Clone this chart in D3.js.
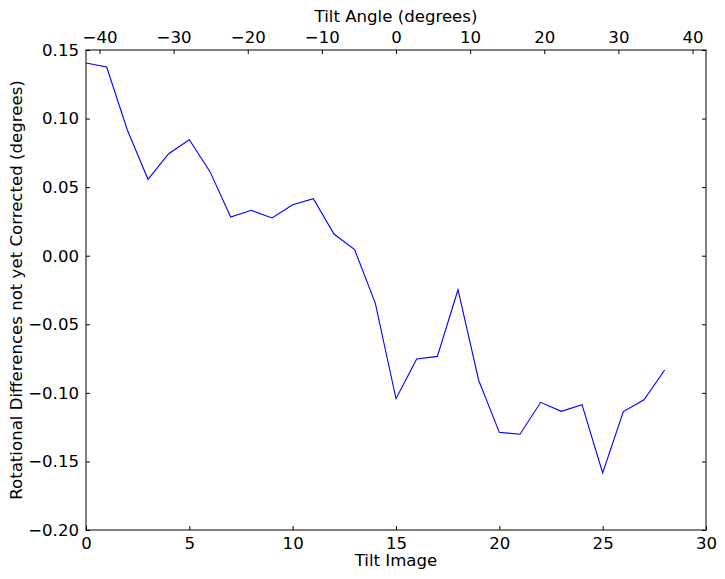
<!DOCTYPE html>
<html><head><meta charset="utf-8">
<script src="https://cdn.jsdelivr.net/npm/d3@7"></script>
<style>body{margin:0;background:#fff}svg{display:block}text{font-family:"DejaVu Sans",sans-serif;fill:#000}</style>
</head><body><svg id="c" width="725" height="579"></svg>
<script>
const tiltImage = [0,1,2,3,4,5,6,7,8,9,10,11,12,13,14,15,16,17,18,19,20,21,22,23,24,25,26,27,28];
const rotDiff = [0.1405,0.1376,0.0917,0.0557,0.0744,0.0846,0.0613,0.0282,0.0331,0.0275,0.0372,0.0416,0.0158,0.0044,-0.0347,-0.1043,-0.0753,-0.0734,-0.0248,-0.0908,-0.1288,-0.1302,-0.1069,-0.1135,-0.1086,-0.1584,-0.1137,-0.1050,-0.0833];
const xTicks = [0,5,10,15,20,25,30];
const yTicks = [0.15,0.10,0.05,0.00,-0.05,-0.10,-0.15,-0.20];
const angleTicks = [-40,-30,-20,-10,0,10,20,30,40];

const L=86, R=706, T=50, B=530;
const svg=d3.select("#c");
const x=d3.scaleLinear().domain([0,30]).range([L,R]);
const y=d3.scaleLinear().domain([-0.20,0.15]).range([B,T]);
const xa=d3.scaleLinear().domain([-41.82,41.82]).range([L,R]);
const fs=16.6, tl=4;

function styleAxis(g){g.select(".domain").remove();g.selectAll("line").attr("stroke","#000").attr("stroke-width",1);g.selectAll("text").style("font-size",fs+"px").style("font-family","DejaVu Sans");}
const minus = d=>String(d).replace("-","\u2212");

svg.append("g").attr("transform",`translate(0,${B})`).call(d3.axisBottom(x).tickValues(xTicks).tickSizeInner(-tl).tickSizeOuter(0).tickPadding(7).tickFormat(d=>d)).call(styleAxis);
svg.append("g").attr("transform",`translate(0,${T})`).call(d3.axisTop(xa).tickValues(angleTicks).tickSizeInner(-tl).tickSizeOuter(0).tickPadding(7).tickFormat(minus)).call(styleAxis);
svg.append("g").attr("transform",`translate(${L},0)`).call(d3.axisLeft(y).tickValues(yTicks).tickSizeInner(-tl).tickSizeOuter(0).tickPadding(7).tickFormat(d=>minus(d3.format(".2f")(d)))).call(styleAxis);
svg.append("g").attr("transform",`translate(${R},0)`).call(d3.axisRight(y).tickValues(yTicks).tickSizeInner(-tl).tickSizeOuter(0).tickFormat("")).call(styleAxis);

svg.append("path").datum(tiltImage).attr("fill","none").attr("stroke","#0000ff").attr("stroke-width",1.1)
  .attr("d",d3.line().x(i=>x(i)).y(i=>y(rotDiff[i])));

svg.append("rect").attr("x",L).attr("y",T).attr("width",R-L).attr("height",B-T).attr("fill","none").attr("stroke","#000").attr("stroke-width",1);

svg.append("text").attr("x",(L+R)/2).attr("y",566).attr("text-anchor","middle").style("font-size",fs+"px").text("Tilt Image");
svg.append("text").attr("x",(L+R)/2).attr("y",22).attr("text-anchor","middle").style("font-size",fs+"px").text("Tilt Angle (degrees)");
svg.append("text").attr("transform",`translate(22,${(T+B)/2}) rotate(-90)`).attr("text-anchor","middle").style("font-size",fs+"px").text("Rotational Differences not yet Corrected (degrees)");
</script></body></html>
